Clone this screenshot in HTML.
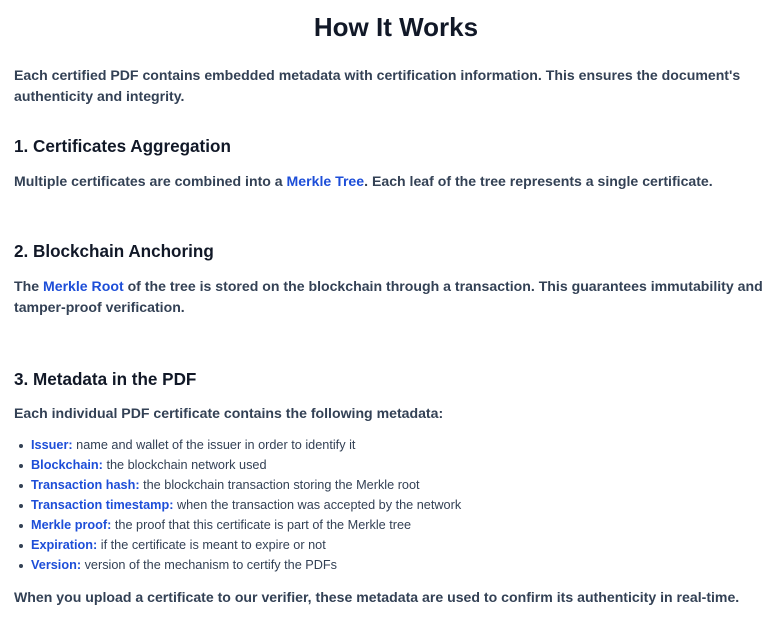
<!DOCTYPE html>
<html><head><meta charset="utf-8"><style>
body{margin:0;width:774px;height:625px;background:#fff;font-family:"Liberation Sans",sans-serif;position:relative;overflow:hidden}
div{position:absolute;white-space:nowrap}
.t{left:0;width:792px;text-align:center;top:12px;font-size:26px;font-weight:bold;color:#111827}
.p{left:14px;font-size:14.1px;font-weight:bold;color:#334155;line-height:20px}
.h{left:14px;font-size:17.1px;font-weight:bold;color:#111827;line-height:24px}
.b{color:#1d4ed8}
.li{left:31px;font-size:12.7px;color:#334155;line-height:20px}
.li b{color:#1d4ed8}
.li:before{content:"";position:absolute;left:-12px;top:9px;width:4px;height:4px;border-radius:50%;background:#334155}
</style></head><body>
<div class="t">How It Works</div>
<div class="p" style="top:65px">Each certified PDF contains embedded metadata with certification information. This ensures the document's</div>
<div class="p" style="top:86px">authenticity and integrity.</div>
<div class="h" style="top:135px">1. Certificates Aggregation</div>
<div class="p" style="top:171px">Multiple certificates are combined into a <span class="b">Merkle Tree</span>. Each leaf of the tree represents a single certificate.</div>
<div class="h" style="top:240px">2. Blockchain Anchoring</div>
<div class="p" style="top:276px">The <span class="b">Merkle Root</span> of the tree is stored on the blockchain through a transaction. This guarantees immutability and</div>
<div class="p" style="top:297px">tamper-proof verification.</div>
<div class="h" style="top:368px">3. Metadata in the PDF</div>
<div class="p" style="top:403px">Each individual PDF certificate contains the following metadata:</div>
<div class="li" style="top:435px"><b>Issuer:</b> name and wallet of the issuer in order to identify it</div>
<div class="li" style="top:455px"><b>Blockchain:</b> the blockchain network used</div>
<div class="li" style="top:475px"><b>Transaction hash:</b> the blockchain transaction storing the Merkle root</div>
<div class="li" style="top:495px"><b>Transaction timestamp:</b> when the transaction was accepted by the network</div>
<div class="li" style="top:515px"><b>Merkle proof:</b> the proof that this certificate is part of the Merkle tree</div>
<div class="li" style="top:535px"><b>Expiration:</b> if the certificate is meant to expire or not</div>
<div class="li" style="top:555px"><b>Version:</b> version of the mechanism to certify the PDFs</div>
<div class="p" style="top:587px">When you upload a certificate to our verifier, these metadata are used to confirm its authenticity in real-time.</div>
</body></html>
